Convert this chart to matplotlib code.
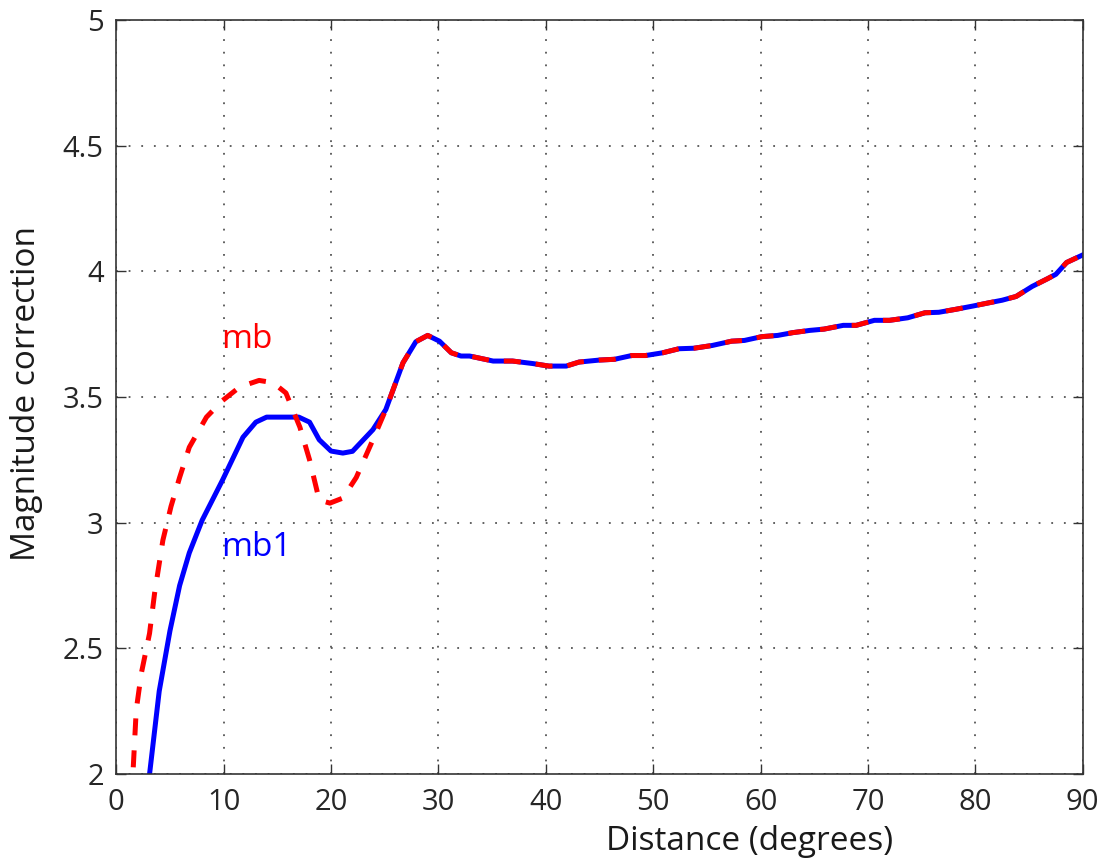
import numpy as np
import matplotlib
matplotlib.use("Agg")
import matplotlib.pyplot as plt

plt.rcParams["font.family"] = ["Open Sans", "DejaVu Sans"]

# low-distance branch of mb1 (solid blue)
mb1_x = [3.0, 3.1, 4.0, 5.0, 5.9, 6.8, 8.0, 9.9, 11.8, 13.0, 14.0, 17.0, 18.0, 18.9, 20.0, 21.1, 22.0, 23.9]
mb1_y = [1.9, 2.0, 2.33, 2.57, 2.75, 2.88, 3.01, 3.17, 3.34, 3.40, 3.42, 3.42, 3.40, 3.33, 3.285, 3.277, 3.284, 3.37]

# low-distance branch of mb (dashed red)
mb_x = [1.45, 1.55, 1.86, 2.33, 3.1, 3.57, 4.34, 5.1, 5.9, 6.8, 8.4, 9.9, 11.5, 13.3, 14.6, 15.8, 17.1, 18.0, 18.9, 19.9, 21.1, 22.35, 23.9]
mb_y = [1.9, 2.0, 2.255, 2.40, 2.56, 2.72, 2.93, 3.065, 3.18, 3.30, 3.42, 3.486, 3.54, 3.566, 3.557, 3.516, 3.38, 3.25, 3.09, 3.078, 3.098, 3.18, 3.33]

# shared part (both curves coincide)
tail_x = [25.1, 26.7, 27.9, 29.0, 30.1, 31.2, 32.1, 32.9, 35.1, 36.9, 38.8, 40.3, 41.9, 43.1, 45.0,
          46.4, 48.0, 49.3, 50.9, 52.4, 53.8, 55.5, 57.3, 58.5, 60.1, 61.6, 63.0, 64.6, 65.9, 67.7,
          68.9, 70.6, 72.0, 73.7, 75.3, 76.6, 78.2, 79.8, 81.3, 82.5, 83.8, 85.3, 86.7, 87.5, 88.5, 90.0]
tail_y = [3.45, 3.636, 3.72, 3.745, 3.722, 3.676, 3.663, 3.663, 3.643, 3.643, 3.633, 3.623, 3.623, 3.639, 3.647,
          3.65, 3.665, 3.665, 3.676, 3.692, 3.694, 3.705, 3.722, 3.725, 3.74, 3.745, 3.756, 3.765, 3.77, 3.785,
          3.785, 3.805, 3.805, 3.815, 3.835, 3.837, 3.849, 3.862, 3.875, 3.885, 3.90, 3.94, 3.97, 3.988, 4.035, 4.065]

xticks = [0, 10, 20, 30, 40, 50, 60, 70, 80, 90]
yticks = [2, 2.5, 3, 3.5, 4, 4.5, 5]
ytick_labels = ["2", "2.5", "3", "3.5", "4", "4.5", "5"]

fig = plt.figure(figsize=(11.02, 8.64), dpi=100)
ax = fig.add_axes([0.1055, 0.104, 0.877, 0.873])

ax.plot(mb1_x + tail_x, mb1_y + tail_y, color="blue", lw=3.6, solid_joinstyle="round")
ax.plot(mb_x + tail_x, mb_y + tail_y, color="red", lw=3.6, dashes=(3.4, 3.0))

ax.text(9.8, 3.73, "mb", color="red", fontsize=24, va="center", ha="left")
ax.text(9.8, 2.90, "mb1", color="blue", fontsize=24, va="center", ha="left")

ax.set_xlim(0, 90)
ax.set_ylim(2, 5)
ax.set_xticks(xticks)
ax.set_yticks(yticks)
ax.set_yticklabels(ytick_labels)
ax.grid(True, color="#555555", linestyle=(0, (1, 6)), linewidth=1.3)
ax.tick_params(direction="in", length=7, width=1, top=True, right=True, labelsize=21,
               colors="#333333", labelcolor="#262626")
ax.tick_params(axis="x", pad=10)
ax.tick_params(axis="y", pad=9)
for s in ax.spines.values():
    s.set_linewidth(1.2)
    s.set_color("#333333")

ax.set_xlabel("Distance (degrees)", fontsize=24, color="#1a1a1a")
ax.set_ylabel("Magnitude correction", fontsize=24, color="#1a1a1a")
ax.xaxis.set_label_coords(0.655, -0.068)
ax.yaxis.set_label_coords(-0.076, 0.505)

fig.savefig("out.png", dpi=100)
